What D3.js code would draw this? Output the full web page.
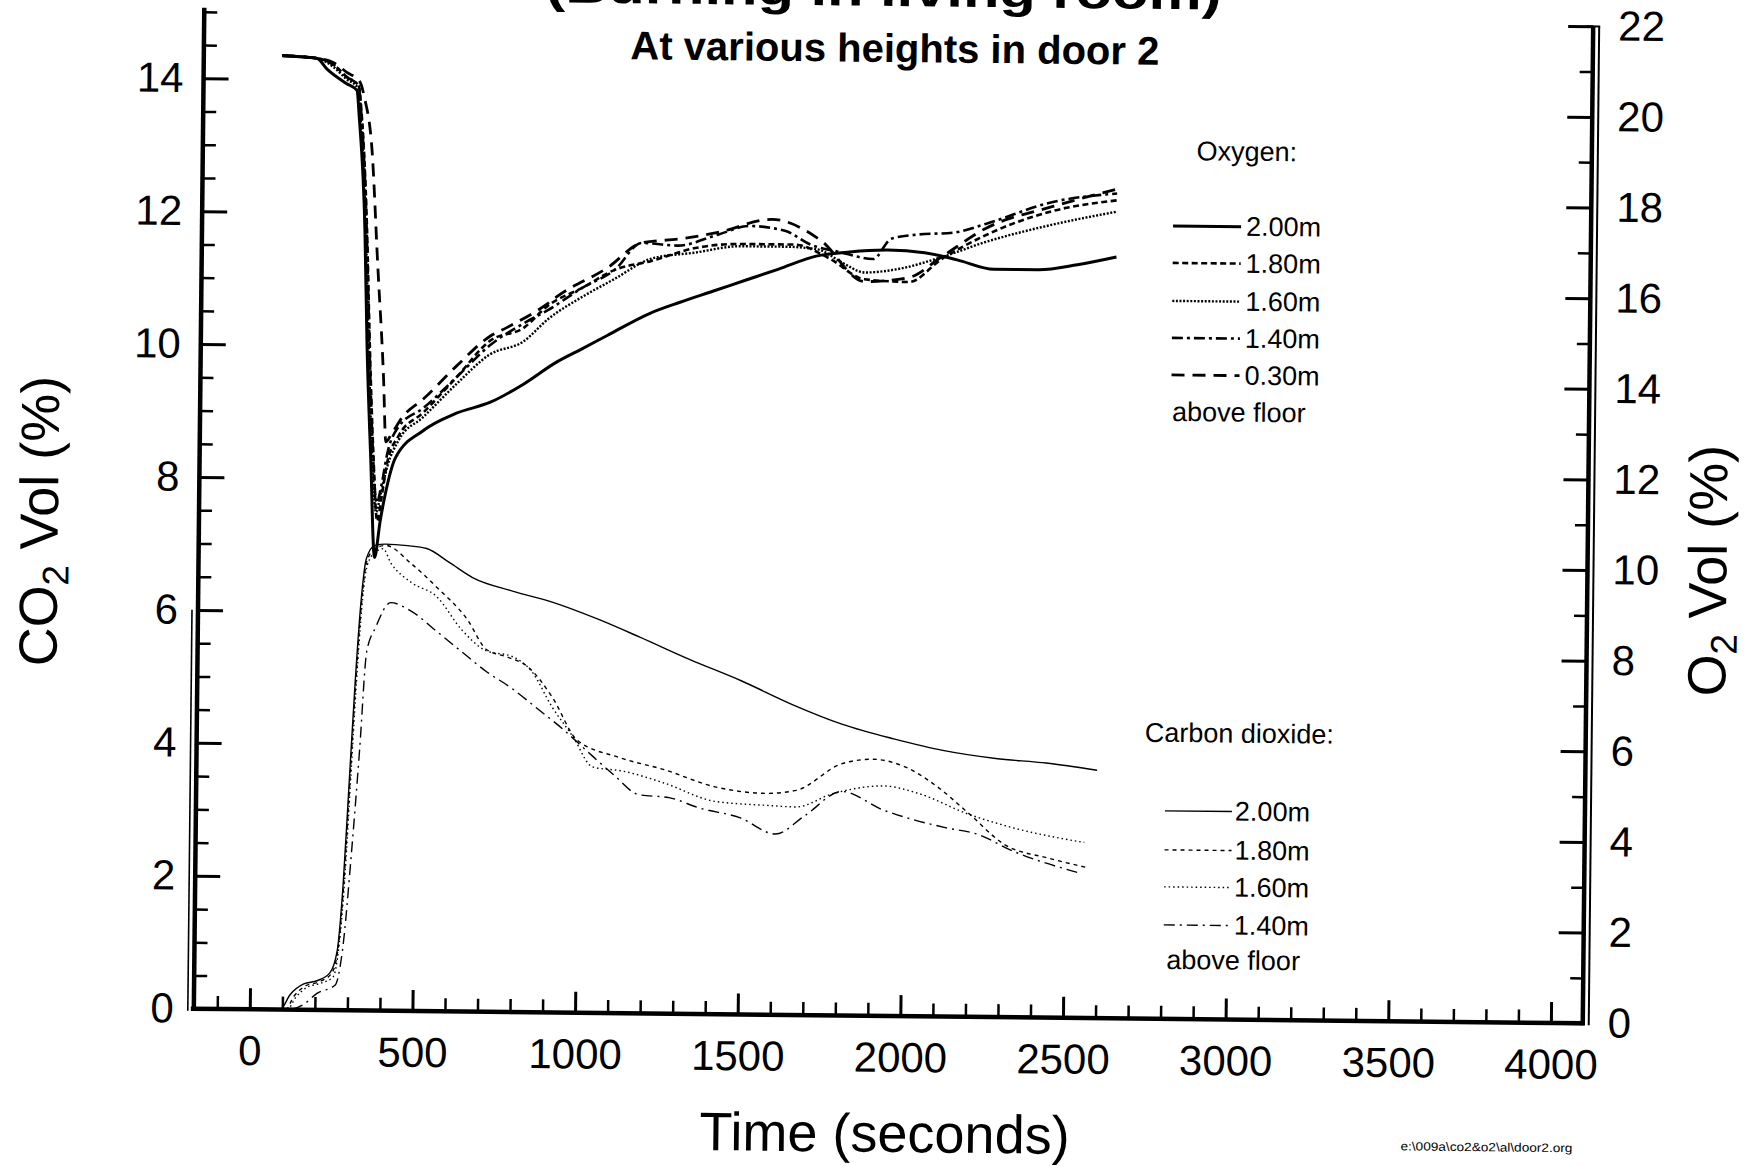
<!DOCTYPE html>
<html><head><meta charset="utf-8">
<script src="https://cdn.jsdelivr.net/npm/d3@7"></script>
<style>
html,body{margin:0;padding:0;background:#fff;}
svg{display:block;}
text{font-family:"Liberation Sans", Arial, Helvetica, sans-serif; fill:#000;}
</style></head><body>
<svg id="chart" width="1756" height="1166"></svg>
<script>
// ---------- DATA ----------
const xTickLabels = [0, 500, 1000, 1500, 2000, 2500, 3000, 3500, 4000];
const co2TickLabels = [0, 2, 4, 6, 8, 10, 12, 14];
const o2TickLabels = [0, 2, 4, 6, 8, 10, 12, 14, 16, 18, 20, 22];

const o2Heights = ["2.00m", "1.80m", "1.60m", "1.40m", "0.30m"];
const co2Heights = ["2.00m", "1.80m", "1.60m", "1.40m"];

// Oxygen (% vol) vs time (s)
const o2_200 = [[69,21.05],[175,21.0],[209,20.75],[267,20.45],[300,20.3],[308,19.7],[329,17.2],[339,14.7],[354,12.2],[369,10.0],[385,10.8],[400,11.4],[430,12.2],[513,12.8],[616,13.2],[720,13.45],[820,13.85],[922,14.35],[1000,14.65],[1077,14.95],[1208,15.45],[1300,15.7],[1400,15.95],[1500,16.2],[1600,16.45],[1717,16.75],[1820,16.85],[1937,16.9],[2050,16.85],[2150,16.7],[2264,16.5],[2400,16.5],[2520,16.62],[2640,16.8]];
const o2_180 = [[69,21.05],[175,21.0],[229,20.85],[267,20.6],[305,20.4],[315,19.8],[335,17.3],[348,14.6],[362,12.3],[376,10.8],[388,11.3],[405,12.1],[440,12.7],[513,13.2],[616,14.0],[716,14.8],[820,15.1],[895,15.6],[1000,16.0],[1098,16.4],[1208,16.6],[1345,16.9],[1483,17.0],[1650,17.0],[1758,16.7],[1866,16.25],[2003,16.2],[2100,16.7],[2237,17.25],[2443,17.8],[2640,18.05]];
const o2_160 = [[69,21.05],[175,21.0],[229,20.8],[267,20.55],[303,20.35],[312,19.7],[332,17.2],[344,14.7],[358,12.3],[372,11.0],[386,11.4],[405,12.0],[440,12.6],[513,13.1],[616,13.85],[716,14.5],[820,14.8],[895,15.3],[1000,15.8],[1098,16.2],[1208,16.65],[1345,16.8],[1483,16.95],[1620,16.95],[1720,16.9],[1800,16.6],[1866,16.4],[1980,16.5],[2100,16.75],[2237,17.1],[2443,17.5],[2640,17.8]];
const o2_140 = [[69,21.05],[175,21.0],[229,20.85],[267,20.6],[305,20.4],[314,19.8],[334,17.3],[346,14.8],[360,12.4],[374,11.2],[388,11.6],[405,12.3],[440,12.9],[513,13.3],[616,14.0],[716,14.7],[820,15.2],[895,15.5],[1000,16.0],[1098,16.4],[1180,17.0],[1290,16.95],[1414,17.2],[1510,17.4],[1620,17.3],[1700,17.0],[1786,16.85],[1892,16.7],[1947,17.15],[2030,17.25],[2140,17.3],[2237,17.5],[2443,18.0],[2640,18.2]];
const o2_030 = [[69,21.05],[175,21.0],[229,20.9],[267,20.7],[308,20.5],[323,20.15],[348,19.0],[369,16.5],[391,13.95],[400,12.55],[415,12.7],[450,13.1],[513,13.5],[616,14.25],[716,14.9],[768,15.1],[895,15.65],[922,15.8],[1077,16.45],[1180,17.0],[1300,17.1],[1414,17.25],[1580,17.55],[1730,17.1],[1866,16.2],[2003,16.3],[2100,16.75],[2237,17.4],[2443,17.9],[2640,18.3]];

// Carbon dioxide (% vol) vs time (s)
const co2_200 = [[50,0],[93,0],[124,0.23],[165,0.39],[206,0.44],[245,0.56],[267,0.9],[283,1.9],[298,3.4],[313,4.9],[329,6.16],[344,6.8],[370,7.0],[403,7.02],[470,7.0],[529,6.96],[600,6.75],[671,6.53],[797,6.33],[919,6.17],[1060,5.92],[1187,5.66],[1342,5.33],[1500,5.02],[1658,4.67],[1813,4.38],[1971,4.17],[2126,4.0],[2285,3.89],[2440,3.83],[2597,3.73]];
const co2_180 = [[60,0],[110,0],[135,0.2],[170,0.36],[210,0.42],[250,0.55],[270,0.95],[286,2.0],[300,3.4],[315,4.9],[330,6.1],[345,6.75],[370,6.95],[403,7.0],[482,6.73],[561,6.38],[656,5.9],[716,5.45],[780,5.34],[843,5.2],[919,4.75],[998,4.1],[1125,3.85],[1266,3.67],[1423,3.42],[1580,3.33],[1673,3.38],[1813,3.79],[1907,3.86],[2002,3.76],[2108,3.45],[2206,3.05],[2314,2.6],[2450,2.4],[2574,2.26]];
const co2_160 = [[60,0],[115,0],[140,0.18],[175,0.34],[215,0.4],[255,0.5],[272,0.95],[288,2.0],[302,3.4],[317,4.9],[332,6.1],[347,6.7],[372,6.9],[395,6.95],[419,6.74],[482,6.45],[561,6.24],[638,5.75],[716,5.43],[795,5.35],[857,5.12],[919,4.6],[985,4.15],[1046,3.7],[1141,3.64],[1266,3.47],[1425,3.2],[1580,3.15],[1673,3.13],[1782,3.33],[1940,3.46],[2050,3.35],[2202,3.05],[2341,2.85],[2560,2.64]];
const co2_140 = [[60,0],[114,0],[165,0.08],[206,0.25],[262,0.38],[283,0.9],[308,2.4],[329,3.9],[348,5.4],[375,5.77],[420,6.14],[482,6.02],[561,5.72],[638,5.42],[716,5.12],[795,4.87],[874,4.57],[952,4.27],[1030,3.93],[1110,3.59],[1189,3.29],[1282,3.25],[1375,3.1],[1500,2.96],[1610,2.72],[1700,3.0],[1813,3.37],[1940,3.1],[2017,2.98],[2135,2.84],[2230,2.75],[2341,2.5],[2547,2.18]];

const o2Series = [o2_200, o2_180, o2_160, o2_140, o2_030];
const co2Series = [co2_200, co2_180, co2_160, co2_140];

// ---------- STYLES / LAYOUT ----------
const o2Styles = [
  {w: 3.0, dash: null},
  {w: 2.6, dash: "6,3.5"},
  {w: 2.4, dash: "2,1.6"},
  {w: 2.6, dash: "11,4,3,4"},
  {w: 2.8, dash: "13,8"}
];
const co2Styles = [
  {w: 1.4, dash: null},
  {w: 1.4, dash: "4,4"},
  {w: 1.4, dash: "1.5,3"},
  {w: 1.4, dash: "11,5,2,5"}
];
const FONT = "Liberation Sans, Arial, Helvetica, sans-serif";
const L = 199, R = 1588, T = 19, B = 1016;
const fmt = d3.format("d");

const svg = d3.select("#chart");
svg.append("rect").attr("width",1756).attr("height",1166).attr("fill","#fff");
const g = svg.append("g").attr("transform","rotate(0.6,893,518)");

const x = d3.scaleLinear().domain([-172, 4098]).range([L, R]);
const yL = d3.scaleLinear().domain([0, 15]).range([B, T]);
const yR = d3.scaleLinear().domain([0, 22]).range([B, T]);

function styleAxis(sel, w) {
  sel.select(".domain").remove();
  sel.selectAll(".tick line").attr("stroke", "#000").attr("stroke-width", w);
  sel.selectAll(".tick text").attr("font-size", 42).attr("font-family", FONT).attr("fill", "#000");
}

// Left axis (CO2)
const co2Minor = d3.range(0.5, 15.01, 0.5).filter(v => v % 2 !== 0);
g.append("g").attr("transform", `translate(${L},0)`)
  .call(d3.axisLeft(yL).tickValues(co2Minor).tickSize(-13).tickFormat(""))
  .call(s => styleAxis(s, 2.5));
g.append("g").attr("transform", `translate(${L},0)`)
  .call(d3.axisLeft(yL).tickValues(co2TickLabels).tickSize(-25).tickPadding(20).tickFormat(fmt))
  .call(s => styleAxis(s, 3));

// Right axis (O2)
const o2Minor = d3.range(1, 22, 2);
g.append("g").attr("transform", `translate(${R},0)`)
  .call(d3.axisRight(yR).tickValues(o2Minor).tickSize(-13).tickFormat(""))
  .call(s => styleAxis(s, 2.5));
g.append("g").attr("transform", `translate(${R},0)`)
  .call(d3.axisRight(yR).tickValues(o2TickLabels).tickSize(-25).tickPadding(25).tickFormat(fmt))
  .call(s => styleAxis(s, 3));

// Bottom axis (time)
const xMinor = d3.range(-100, 4098, 100).filter(v => v % 500 !== 0);
g.append("g").attr("transform", `translate(0,${B})`)
  .call(d3.axisBottom(x).tickValues(xMinor).tickSize(-13).tickFormat(""))
  .call(s => styleAxis(s, 2.5));
g.append("g").attr("transform", `translate(0,${B})`)
  .call(d3.axisBottom(x).tickValues(xTickLabels).tickSize(-21).tickPadding(26).tickFormat(fmt))
  .call(s => styleAxis(s, 3));

// Axis frame lines (scanned double lines)
g.append("line").attr("x1", L).attr("x2", L).attr("y1", T - 4).attr("y2", B + 2).attr("stroke", "#000").attr("stroke-width", 4.5);
g.append("line").attr("x1", L - 6).attr("x2", L - 6).attr("y1", yL(6)).attr("y2", B + 2).attr("stroke", "#000").attr("stroke-width", 1.6);
g.append("line").attr("x1", L - 3).attr("x2", R + 2).attr("y1", B).attr("y2", B).attr("stroke", "#000").attr("stroke-width", 4.5);
g.append("line").attr("x1", R).attr("x2", R).attr("y1", T).attr("y2", B + 2).attr("stroke", "#000").attr("stroke-width", 4.5);
g.append("line").attr("x1", R + 6).attr("x2", R + 6).attr("y1", T).attr("y2", B + 2).attr("stroke", "#000").attr("stroke-width", 2);
g.append("line").attr("x1", R - 7).attr("x2", R + 7).attr("y1", T).attr("y2", T).attr("stroke", "#000").attr("stroke-width", 2);

// Series lines
const lineO2 = d3.line().x(d => x(d[0])).y(d => yR(d[1])).curve(d3.curveMonotoneX);
const lineCO2 = d3.line().x(d => x(d[0])).y(d => yL(d[1])).curve(d3.curveMonotoneX);

g.append("g").selectAll("path").data(co2Series).join("path")
  .attr("d", d => lineCO2(d)).attr("fill", "none").attr("stroke", "#000")
  .attr("stroke-width", (d, i) => co2Styles[i].w)
  .attr("stroke-dasharray", (d, i) => co2Styles[i].dash);

g.append("g").selectAll("path").data(o2Series).join("path")
  .attr("d", d => lineO2(d)).attr("fill", "none").attr("stroke", "#000")
  .attr("stroke-width", (d, i) => o2Styles[i].w)
  .attr("stroke-linejoin", "round")
  .attr("stroke-dasharray", (d, i) => o2Styles[i].dash);

// Legends
const LEG = 27;
const o2Leg = g.append("g");
o2Leg.append("text").attr("x", 1243).attr("y", 157).attr("text-anchor", "middle")
  .attr("font-size", LEG).attr("font-family", FONT).text("Oxygen:");
const o2Rows = [232, 269, 307, 344, 381];
o2Heights.forEach((lab, i) => {
  o2Leg.append("line").attr("x1", 1170).attr("x2", 1238).attr("y1", o2Rows[i] - 9).attr("y2", o2Rows[i] - 9)
    .attr("stroke", "#000").attr("stroke-width", o2Styles[i].w).attr("stroke-dasharray", o2Styles[i].dash);
  o2Leg.append("text").attr("x", 1243).attr("y", o2Rows[i]).attr("font-size", LEG).attr("font-family", FONT).text(lab);
});
o2Leg.append("text").attr("x", 1171).attr("y", 418).attr("font-size", LEG).attr("font-family", FONT).text("above floor");

const coLeg = g.append("g");
coLeg.append("text").attr("x", 1147).attr("y", 739).attr("font-size", LEG).attr("font-family", FONT).text("Carbon dioxide:");
const coRows = [817, 856, 893, 931];
co2Heights.forEach((lab, i) => {
  coLeg.append("line").attr("x1", 1168).attr("x2", 1235).attr("y1", coRows[i] - 9).attr("y2", coRows[i] - 9)
    .attr("stroke", "#000").attr("stroke-width", co2Styles[i].w).attr("stroke-dasharray", co2Styles[i].dash);
  coLeg.append("text").attr("x", 1238).attr("y", coRows[i]).attr("font-size", LEG).attr("font-family", FONT).text(lab);
});
coLeg.append("text").attr("x", 1171).attr("y", 966).attr("font-size", LEG).attr("font-family", FONT).text("above floor");

// Titles
g.append("text").attr("x", 878).attr("y", 6).attr("text-anchor", "middle")
  .attr("font-size", 46).attr("font-weight", "bold").attr("font-family", FONT)
  .attr("textLength", 676).attr("lengthAdjust", "spacingAndGlyphs")
  .text("(Burning in living room)");
g.append("text").attr("x", 890).attr("y", 62).attr("text-anchor", "middle")
  .attr("font-size", 40).attr("font-weight", "bold").attr("font-family", FONT)
  .text("At various heights in door 2");

// Axis titles
const co2Title = g.append("text").attr("transform", "translate(58,530) rotate(-90)")
  .attr("text-anchor", "middle").attr("font-size", 54).attr("font-family", FONT);
co2Title.append("tspan").text("CO");
co2Title.append("tspan").attr("font-size", 37).attr("dy", 11).text("2");
co2Title.append("tspan").attr("dy", -11).text(" Vol (%)");

const o2Title = g.append("text").attr("transform", "translate(1727,562) rotate(-90)")
  .attr("text-anchor", "middle").attr("font-size", 54).attr("font-family", FONT);
o2Title.append("tspan").text("O");
o2Title.append("tspan").attr("font-size", 37).attr("dy", 11).text("2");
o2Title.append("tspan").attr("dy", -11).text(" Vol (%)");

g.append("text").attr("x", 891).attr("y", 1152).attr("text-anchor", "middle")
  .attr("font-size", 54).attr("font-family", FONT).text("Time (seconds)");

g.append("text").attr("x", 1493).attr("y", 1145).attr("text-anchor", "middle")
  .attr("font-size", 12).attr("font-family", FONT)
  .attr("textLength", 172).attr("lengthAdjust", "spacingAndGlyphs")
  .text("e:\\009a\\co2&o2\\al\\door2.org");
</script>
</body></html>
